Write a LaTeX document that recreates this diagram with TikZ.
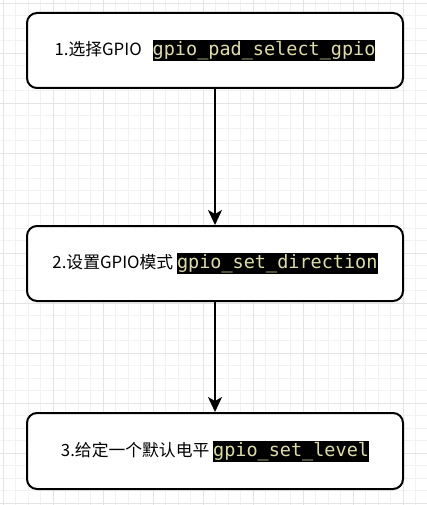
\documentclass[tikz,border=0pt]{standalone}
\usepackage{fontspec}
\setmainfont{Noto Sans CJK SC}
\newfontfamily\codefont{DejaVu Sans Mono}
\usepackage{xcolor}
\usetikzlibrary{arrows.meta}
\usetikzlibrary{math}
\definecolor{mygrid}{RGB}{242,242,242}
\definecolor{mygridmajor}{RGB}{228,228,228}
\definecolor{mycode}{RGB}{220,220,170}
\newcommand{\gpiocode}[1]{{\setlength{\fboxsep}{0pt}\colorbox{black}{\rule[-5.5pt]{0pt}{21pt}\textcolor{mycode}{\codefont\fontsize{18.5}{20}\selectfont #1}}}}

\begin{document}
\begin{tikzpicture}[x=1pt,y=-1pt,
  stepbox/.style={draw, line width=2, rounded corners=10pt, minimum width=376pt, minimum height=75pt, inner sep=0pt, font=\fontsize{16.8}{20}\selectfont},
  flow/.style={line width=2, -{Stealth[length=15pt,width=14pt,inset=4pt]}}]
\tikzmath{
\X=215;
}

\useasboundingbox (0,0) rectangle (427,505);
\fill[white] (0,0) rectangle (427,505);

% background grid
\foreach \i in {0,...,34} {
  \draw[mygrid, line width=0.8] (3+\i*12.5,0) -- (3+\i*12.5,505);
}
\foreach \i in {0,...,40} {
  \draw[mygrid, line width=0.8] (0,3+\i*12.5) -- (427,3+\i*12.5);
}
\foreach \i in {0,...,8} {
  \draw[mygridmajor, line width=0.8] (3+\i*50,0) -- (3+\i*50,505);
}
\foreach \i in {0,...,10} {
  \draw[mygridmajor, line width=0.8] (0,3+\i*50) -- (427,3+\i*50);
}

\node[stepbox, fill=white] (select) at (\X,50.5) {1.选择GPIO\hspace{11pt}\gpiocode{gpio\_pad\_select\_gpio}};
\node[stepbox, fill=white] (direction) at (\X,263.5) {2.设置GPIO模式 \gpiocode{gpio\_set\_direction}};
\node[stepbox, fill=white, minimum height=76pt] (level) at (\X,451) {3.给定一个默认电平 \gpiocode{gpio\_set\_level}};

\draw[flow] (select) -- (direction);
\draw[flow] (direction) -- (level);

\end{tikzpicture}
\end{document}
